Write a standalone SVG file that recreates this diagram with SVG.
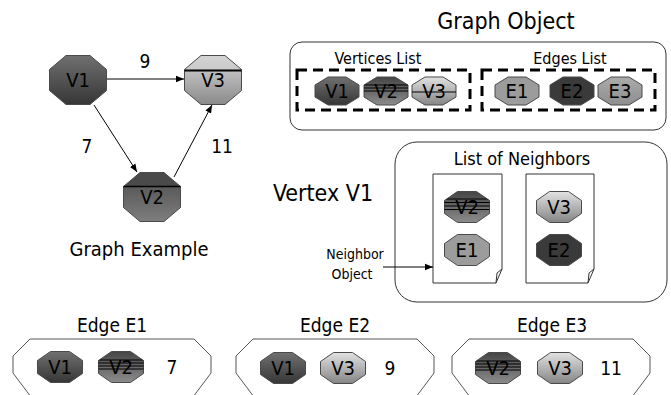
<svg xmlns="http://www.w3.org/2000/svg" xmlns:xlink="http://www.w3.org/1999/xlink" width="671" height="395" viewBox="0 0 671 395">
<style>
text{font-family:"DejaVu Sans Condensed","DejaVu Sans",sans-serif;fill:#000;text-anchor:middle}
.lbl{font-size:20px}
.oct{stroke:#4a4a4a;stroke-width:1}
.frame{fill:#fff;stroke:#333;stroke-width:1}
.dash{fill:none;stroke:#000;stroke-width:3;stroke-dasharray:10 6}
.conn{stroke:#000;stroke-width:1;fill:none}
.stripe{stroke:#000;stroke-width:1.2}
</style>
<defs>
<linearGradient id="gV1" x1="0" y1="0" x2="0" y2="1"><stop offset="0" stop-color="#707070"/><stop offset="1" stop-color="#363636"/></linearGradient>
<linearGradient id="gV2b" x1="0" y1="0" x2="0" y2="1"><stop offset="0" stop-color="#4a4a4a"/><stop offset="0.29" stop-color="#4a4a4a"/><stop offset="0.29" stop-color="#5a5a5a"/><stop offset="1" stop-color="#7e7e7e"/></linearGradient>
<linearGradient id="gV3b" x1="0" y1="0" x2="0" y2="1"><stop offset="0" stop-color="#d4d4d4"/><stop offset="0.31" stop-color="#c8c8c8"/><stop offset="0.31" stop-color="#c0c0c0"/><stop offset="1" stop-color="#8a8a8a"/></linearGradient>
<linearGradient id="gV2" x1="0" y1="0" x2="0" y2="1"><stop offset="0" stop-color="#454545"/><stop offset="1" stop-color="#8c8c8c"/></linearGradient>
<linearGradient id="gV3" x1="0" y1="0" x2="0" y2="1"><stop offset="0" stop-color="#e2e2e2"/><stop offset="1" stop-color="#858585"/></linearGradient>
<linearGradient id="gE3" x1="0" y1="0" x2="0" y2="1"><stop offset="0" stop-color="#ababab"/><stop offset="1" stop-color="#8e8e8e"/></linearGradient>
<path id="octL" d="M-12,-24.5H12L28.5,-10.5V10.5L12,24.5H-12L-28.5,10.5V-10.5Z"/>
<path id="octS" d="M-9.5,-15.5H9.5L22.5,-6.5V6.5L9.5,15.5H-9.5L-22.5,6.5V-6.5Z"/>
<path id="octG" d="M-9,-14H9L22,-6V6L9,14H-9L-22,6V-6Z"/>
<clipPath id="clipS"><use xlink:href="#octS"/></clipPath>
<clipPath id="clipG"><use xlink:href="#octG"/></clipPath>
<marker id="arr" viewBox="0 0 10 10" refX="10" refY="5" markerWidth="8" markerHeight="8" markerUnits="userSpaceOnUse" orient="auto"><path d="M0,1L10,5L0,9Z" fill="#000"/></marker>
</defs>

<!-- Graph example -->
<g id="ge-V1" transform="translate(78,80)">
<use xlink:href="#octL" class="oct" fill="url(#gV1)"/>
<text class="lbl" y="7">V1</text>
</g>
<g id="ge-V3" transform="translate(213,80)">
<use xlink:href="#octL" class="oct" fill="url(#gV3b)"/>
<line x1="-28.5" y1="-9.5" x2="28.5" y2="-9.5" stroke="#000" stroke-width="2"/>
<text class="lbl" y="7">V3</text>
</g>
<g id="ge-V2" transform="translate(152,197)">
<use xlink:href="#octL" class="oct" fill="url(#gV2b)"/>
<line x1="-28.5" y1="-10.5" x2="28.5" y2="-10.5" stroke="#000" stroke-width="1.5"/>
<text class="lbl" y="7">V2</text>
</g>
<g id="ge-labels">
<text x="145" y="68" style="font-size:19px">9</text>
<text x="87" y="153" style="font-size:19px">7</text>
<text x="222" y="153" style="font-size:19px">11</text>
<text x="139" y="256" style="font-size:20px">Graph Example</text>
</g>

<!-- Graph Object -->
<g id="graph-object">
<text x="506" y="29" style="font-size:23px">Graph Object</text>
<rect class="frame" x="290" y="42" width="376" height="88" rx="12"/>
<text x="378" y="64" style="font-size:16px">Vertices List</text>
<text x="570" y="64" style="font-size:16px">Edges List</text>
<rect class="dash" x="297" y="70" width="173" height="40"/>
<rect class="dash" x="482" y="70" width="173" height="40"/>
</g>
<g id="go-V1" transform="translate(337,91)"><use xlink:href="#octG" class="oct" fill="url(#gV1)"/><text class="lbl" y="7">V1</text></g>
<g id="go-V2" transform="translate(386,91)"><use xlink:href="#octG" class="oct" fill="url(#gV2)"/><text class="lbl" y="7">V2</text><g clip-path="url(#clipG)"><path class="stripe" d="M-23,-6H23M-23,-3H23M-23,0H23"/></g></g>
<g id="go-V3" transform="translate(434,91)"><use xlink:href="#octG" class="oct" fill="url(#gV3)"/><text class="lbl" y="7">V3</text><g clip-path="url(#clipG)"><path class="stripe" d="M-23,1H23" stroke-width="0.8"/></g></g>
<g id="go-E1" transform="translate(517,91)"><use xlink:href="#octG" class="oct" fill="#9c9c9c"/><text class="lbl" y="7">E1</text></g>
<g id="go-E2" transform="translate(572,91)"><use xlink:href="#octG" class="oct" fill="#3a3a3a"/><text class="lbl" y="7">E2</text></g>
<g id="go-E3" transform="translate(620,91)"><use xlink:href="#octG" class="oct" fill="url(#gE3)"/><text class="lbl" y="7">E3</text></g>

<!-- Vertex V1 -->
<g id="vertex-v1">
<text x="323" y="201" style="font-size:23px">Vertex V1</text>
<rect class="frame" x="395" y="142" width="272" height="160" rx="22"/>
<text x="522" y="165" style="font-size:18px">List of Neighbors</text>
<text x="355" y="259" style="font-size:14px">Neighbor</text>
<text x="352" y="279" style="font-size:14px">Object</text>
</g>
<g id="page1">
<path d="M433,174H502V269L496,283H433Z" fill="#fff" stroke="#333" stroke-width="1"/>
<path d="M502,269L497,273L496,283" fill="none" stroke="#333" stroke-width="1"/>
</g>
<g id="page2">
<path d="M526,174H594V269L588,283H526Z" fill="#fff" stroke="#333" stroke-width="1"/>
<path d="M594,269L589,273L588,283" fill="none" stroke="#333" stroke-width="1"/>
</g>
<g id="n-V2" transform="translate(467,207)"><use xlink:href="#octS" class="oct" fill="url(#gV2)"/><text class="lbl" y="7">V2</text><g clip-path="url(#clipS)"><path class="stripe" d="M-23,-8H23M-23,-4.5H23M-23,-1H23M-23,2.5H23"/></g></g>
<g id="n-E1" transform="translate(467,250)"><use xlink:href="#octS" class="oct" fill="#9c9c9c"/><text class="lbl" y="7">E1</text></g>
<g id="n-V3" transform="translate(559,207)"><use xlink:href="#octS" class="oct" fill="url(#gV3)"/><text class="lbl" y="7">V3</text></g>
<g id="n-E2" transform="translate(559,250)"><use xlink:href="#octS" class="oct" fill="#3a3a3a"/><text class="lbl" y="7">E2</text></g>

<!-- Edges -->
<g id="edge-e1">
<text x="112" y="332" style="font-size:19px">Edge E1</text>
<path d="M30,339H194L211,356V373L190,401H34L13,373V356Z" fill="#fff" stroke="#555" stroke-width="1"/>
<text x="172" y="374" style="font-size:19px">7</text>
</g>
<g id="e1-V1" transform="translate(60,367)"><use xlink:href="#octS" class="oct" fill="url(#gV1)"/><text class="lbl" y="7">V1</text></g>
<g id="e1-V2" transform="translate(121,367)"><use xlink:href="#octS" class="oct" fill="url(#gV2)"/><text class="lbl" y="7">V2</text><g clip-path="url(#clipS)"><path class="stripe" d="M-23,-7H23M-23,-4H23M-23,-1H23M-23,2H23"/></g></g>

<g id="edge-e2">
<text x="335" y="332" style="font-size:19px">Edge E2</text>
<path d="M253,339H417L434,356V373L413,401H257L236,373V356Z" fill="#fff" stroke="#555" stroke-width="1"/>
<text x="390" y="375" style="font-size:19px">9</text>
</g>
<g id="e2-V1" transform="translate(283,368)"><use xlink:href="#octS" class="oct" fill="url(#gV1)"/><text class="lbl" y="7">V1</text></g>
<g id="e2-V3" transform="translate(343,368)"><use xlink:href="#octS" class="oct" fill="url(#gV3)"/><text class="lbl" y="7">V3</text></g>

<g id="edge-e3">
<text x="552" y="332" style="font-size:19px">Edge E3</text>
<path d="M469,339H633L650,356V373L629,401H473L452,373V356Z" fill="#fff" stroke="#555" stroke-width="1"/>
<text x="611" y="375" style="font-size:19px">11</text>
</g>
<g id="e3-V2" transform="translate(498,368)"><use xlink:href="#octS" class="oct" fill="url(#gV2)"/><text class="lbl" y="7">V2</text><g clip-path="url(#clipS)"><path class="stripe" d="M-23,-7H23M-23,-4H23M-23,-1H23M-23,2H23"/></g></g>
<g id="e3-V3" transform="translate(560,368)"><use xlink:href="#octS" class="oct" fill="url(#gV3)"/><text class="lbl" y="7">V3</text></g>

<g id="connectors">
<line class="conn" x1="107" y1="79" x2="184" y2="79" marker-end="url(#arr)"/>
<line class="conn" x1="94" y1="105" x2="137" y2="172" marker-end="url(#arr)"/>
<line class="conn" x1="174" y1="177" x2="212" y2="105" marker-end="url(#arr)"/>
<line class="conn" x1="383" y1="267" x2="433" y2="267" marker-end="url(#arr)"/>
</g>
</svg>
